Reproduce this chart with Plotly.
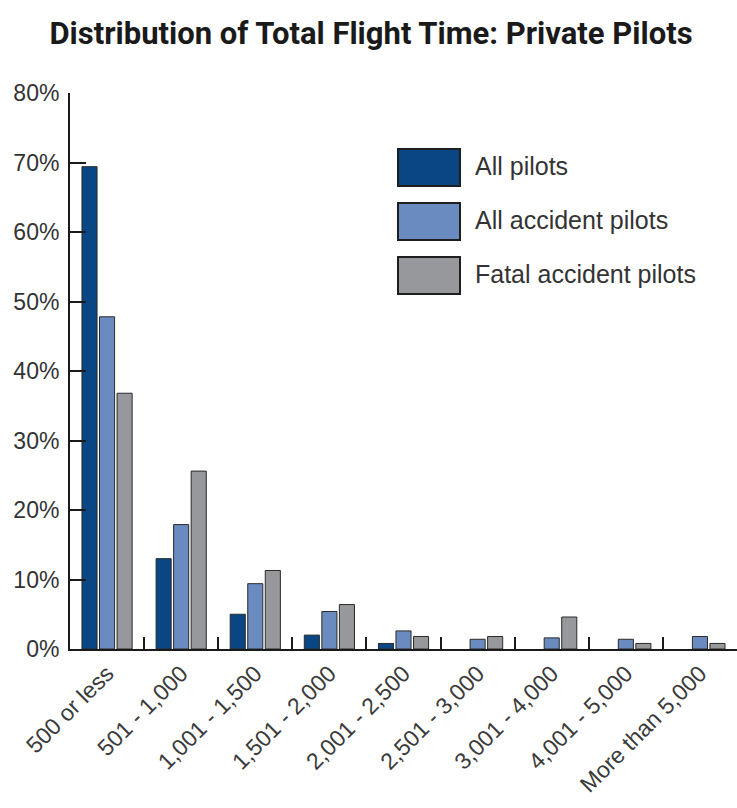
import plotly.graph_objects as go

categories = ["500 or less", "501 - 1,000", "1,001 - 1,500", "1,501 - 2,000",
              "2,001 - 2,500", "2,501 - 3,000", "3,001 - 4,000", "4,001 - 5,000",
              "More than 5,000"]
all_pilots = [69.4, 13.0, 5.0, 2.0, 0.8, None, None, None, None]
all_accident = [47.8, 17.9, 9.4, 5.4, 2.6, 1.4, 1.6, 1.4, 1.8]
fatal_accident = [36.8, 25.6, 11.3, 6.4, 1.8, 1.8, 4.6, 0.8, 0.8]
series_names = ["All pilots", "All accident pilots", "Fatal accident pilots"]
series_colors = ["#0a4683", "#6a8bbf", "#97989c"]
y_ticks = [0, 10, 20, 30, 40, 50, 60, 70, 80]
y_tick_labels = [f"{v}%" for v in y_ticks]

fig = go.Figure()
for name, vals, col in zip(series_names, [all_pilots, all_accident, fatal_accident], series_colors):
    fig.add_trace(go.Bar(x=categories, y=vals, name=name, marker_color=col,
                         marker_line=dict(color="#2a2a2a", width=1), showlegend=False))

# custom legend (large swatches)
box_tops = [149, 203, 257]
for name, col, top in zip(series_names, series_colors, box_tops):
    fig.add_shape(type="rect", xref="paper", yref="paper",
                  x0=(398 - 70) / 667, x1=(460 - 70) / 667,
                  y0=(649 - (top + 37)) / 556, y1=(649 - top) / 556,
                  fillcolor=col, line=dict(color="#1e1e1e", width=2))
    fig.add_annotation(xref="paper", yref="paper", x=(473 - 70) / 667,
                       y=(649 - (top + 17)) / 556, text=name, showarrow=False,
                       xanchor="left", yanchor="middle",
                       font=dict(family="Liberation Sans, Arial", size=25, color="#333333"))

fig.update_layout(
    width=737, height=808,
    margin=dict(l=70, r=0, t=93, b=159),
    paper_bgcolor="white", plot_bgcolor="white",
    barmode="group", bargap=0.29, bargroupgap=0.14,
    title=dict(text="<b>Distribution of Total Flight Time: Private Pilots</b>",
               x=371 / 737, xref="container", xanchor="center", y=1 - 33 / 808, yanchor="middle",
               font=dict(family="Liberation Sans Narrow, Roboto, Arial", size=31, color="#1a1a1a")),
    xaxis=dict(showline=True, linecolor="#1a1a1a", linewidth=2, ticks="inside",
               tickson="boundaries", ticklen=12, tickwidth=2, tickcolor="#1a1a1a",
               tickangle=-45, showgrid=False,
               tickfont=dict(family="Liberation Sans, Arial", size=23, color="#3a3a3a")),
    yaxis=dict(range=[0, 80], tickvals=y_ticks, ticktext=y_tick_labels,
               showline=True, linecolor="#1a1a1a", linewidth=2, ticks="inside",
               ticklen=16, tickwidth=2, tickcolor="#1a1a1a", showgrid=False,
               zeroline=False, ticklabelstandoff=4,
               tickfont=dict(family="Liberation Sans, Arial", size=23, color="#333333")),
)

fig.write_html("out.html")
